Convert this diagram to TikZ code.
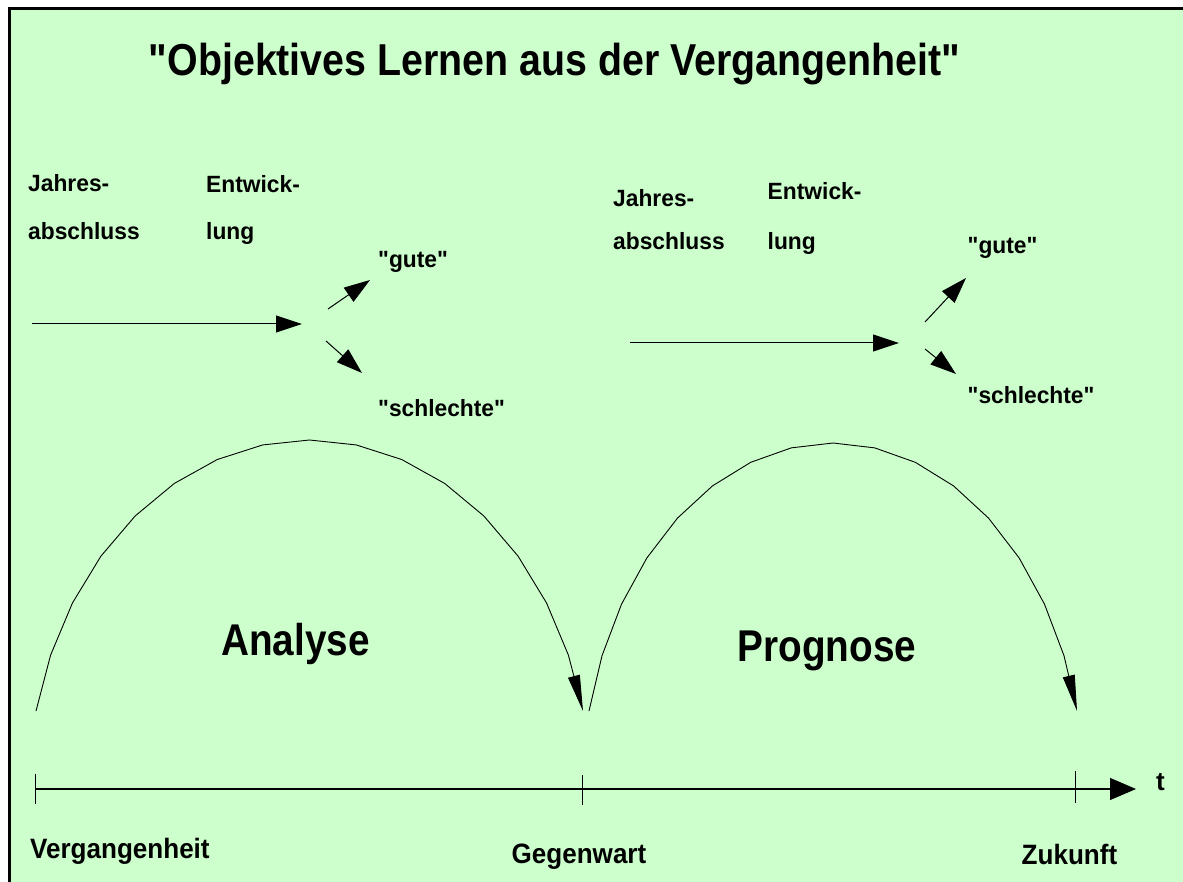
\documentclass[tikz,border=0pt]{standalone}
\usepackage{fontspec}
\setmainfont{Liberation Sans}
\newfontfamily\ttlfont{Liberation Sans}[FakeStretch=0.88]
\newfontfamily\bigfont{Liberation Sans}[FakeStretch=0.87]
\newfontfamily\botfont{Liberation Sans}[FakeStretch=0.93]
\newfontfamily\labfont{Liberation Sans}[FakeStretch=0.97]
\usetikzlibrary{arrows.meta}
\definecolor{bggreen}{HTML}{CCFFCC}
\begin{document}
\begin{tikzpicture}[x=1pt,y=-1pt,
  lab/.style={anchor=base west,inner sep=0pt,font=\labfont\bfseries\fontsize{23.5}{28}\selectfont},
  bot/.style={anchor=base west,inner sep=0pt,font=\botfont\bfseries\fontsize{28}{32}\selectfont},
  big/.style={anchor=base west,inner sep=0pt,font=\bigfont\bfseries\fontsize{44.5}{50}\selectfont},
  ttl/.style={anchor=base,inner sep=0pt,font=\ttlfont\bfseries\fontsize{44.7}{50}\selectfont},
  arr/.style={-{Triangle[length=26pt,width=17pt]},line width=1pt},
  axisarr/.style={-{Triangle[length=26pt,width=22pt]},line width=1.2pt},
  arcarr/.style={-{Triangle[length=36pt,width=12pt]},line width=0.9pt},
  tick/.style={line width=1pt}]
\useasboundingbox (0,0) rectangle (1183,882);
\clip (0,0) rectangle (1183,882);
\fill[white] (0,0) rectangle (1183,882);
\filldraw[fill=bggreen,draw=black,line width=3pt] (9.2,8.3) rectangle (1200,900);

% title
\node[ttl] (title) at (554.5,76) {"Objektives Lernen aus der Vergangenheit"};

% left group
\node[lab] (jl1) at (28,192) {Jahres-};
\node[lab] (jl2) at (28,240) {abschluss};
\node[lab] (el1) at (206,193) {Entwick-};
\node[lab] (el2) at (206,240) {lung};
\node[lab] (gl) at (378,268) {"gute"};
\node[lab] (sl) at (378,416.5) {"schlechte"};
\coordinate (h1s) at (32,324);  \coordinate (h1e) at (302,324);
\coordinate (u1s) at (328,309); \coordinate (u1e) at (370,280);
\coordinate (d1s) at (326,341); \coordinate (d1e) at (362,373);
\draw[arr] (h1s) -- (h1e);
\draw[arr] (u1s) -- (u1e);
\draw[arr] (d1s) -- (d1e);

% right group
\node[lab] (jr1) at (613,206.5) {Jahres-};
\node[lab] (jr2) at (613,250) {abschluss};
\node[lab] (er1) at (767.5,200) {Entwick-};
\node[lab] (er2) at (767.5,250) {lung};
\node[lab] (gr) at (967.5,254) {"gute"};
\node[lab] (sr) at (967.5,403) {"schlechte"};
\coordinate (h2s) at (630,343); \coordinate (h2e) at (899,343);
\coordinate (u2s) at (925,322); \coordinate (u2e) at (966,278);
\coordinate (d2s) at (925,349); \coordinate (d2e) at (956,374);
\draw[arr] (h2s) -- (h2e);
\draw[arr] (u2s) -- (u2e);
\draw[arr] (d2s) -- (d2e);

% arcs
\draw[arcarr] plot[domain=166.66:13.34,samples=17] ({309.5+281.1*cos(\x)},{792.3-352.3*sin(\x)});
\draw[arcarr] plot[domain=166.66:13.34,samples=17] ({833+250.8*cos(\x)},{791.4-348.4*sin(\x)});
\node[big] (ana) at (221,655) {Analyse};
\node[big] (pro) at (737.5,661.5) {Prognose};

% time axis
\coordinate (ax0) at (35,789); \coordinate (axE) at (1136,789);
\draw[axisarr] (ax0) -- (axE);
\coordinate (k1a) at (35,774);   \coordinate (k1b) at (35,804);
\coordinate (k2a) at (582.7,775); \coordinate (k2b) at (582.7,805);
\coordinate (k3a) at (1075,771); \coordinate (k3b) at (1075,803);
\draw[tick] (k1a) -- (k1b);
\draw[tick] (k2a) -- (k2b);
\draw[tick] (k3a) -- (k3b);
\node[anchor=base west,inner sep=0pt,font=\bfseries\fontsize{26}{30}\selectfont] (tl) at (1156,790) {t};
\node[bot] (vg) at (30,858.5) {Vergangenheit};
\node[bot] (gw) at (511.5,863.5) {Gegenwart};
\node[bot] (zk) at (1021.5,864) {Zukunft};
\end{tikzpicture}
\end{document}
